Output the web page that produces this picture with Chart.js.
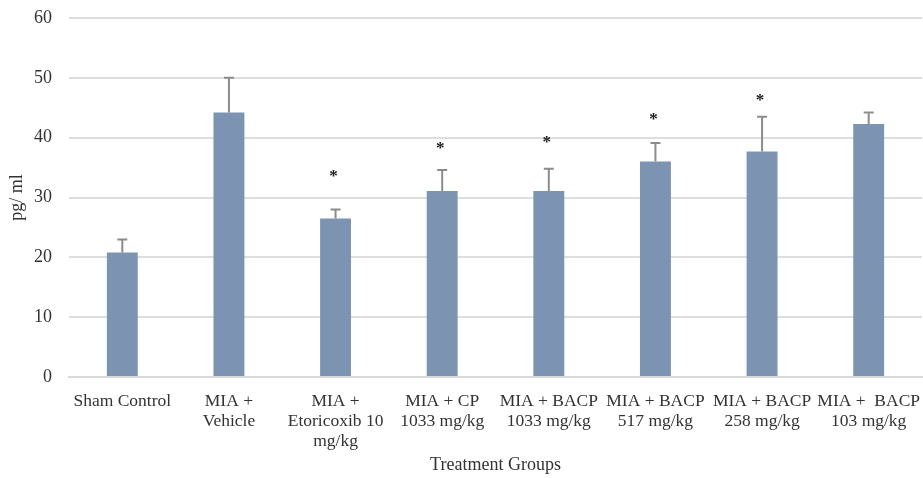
<!DOCTYPE html>
<html>
<head>
<meta charset="utf-8">
<script src="https://cdn.jsdelivr.net/npm/chart.js@4"></script>
<style>
  html, body { margin: 0; padding: 0; background: #ffffff; }
  #wrap { width: 923px; height: 478px; position: relative; }
</style>
</head>
<body>
<div id="wrap"><canvas id="chart" width="923" height="478"></canvas></div>
<script>
// Treatment groups (multi-line axis labels)
const groups = [
  ["Sham Control"],
  ["MIA +", "Vehicle"],
  ["MIA +", "Etoricoxib 10", "mg/kg"],
  ["MIA + CP", "1033 mg/kg"],
  ["MIA + BACP", "1033 mg/kg"],
  ["MIA + BACP", "517 mg/kg"],
  ["MIA + BACP", "258 mg/kg"],
  ["MIA +  BACP", "103 mg/kg"]
];

// Mean concentration (pg/ml)
const means = [20.8, 44.2, 26.5, 31.1, 31.1, 36.0, 37.7, 42.3];

// Upper end of the error bar for each group (pg/ml)
const errorTops = [23.0, 50.0, 28.0, 34.6, 34.8, 39.1, 43.5, 44.2];

// Significance markers and the level (pg/ml) at which each is placed
const sigMarks = ["", "", "*", "*", "*", "*", "*", ""];
const sigLevels = [null, null, 33.5, 38.1, 39.2, 43.1, 46.2, null];

// Value axis ticks
const yTicks = [0, 10, 20, 30, 40, 50, 60];

const SERIF = '"Liberation Serif", "Times New Roman", serif';

// Draws the error bars (upper whisker with cap) and significance asterisks
const errorBarPlugin = {
  id: 'errorBars',
  afterDatasetsDraw(chart) {
    const ctx = chart.ctx;
    const meta = chart.getDatasetMeta(0);
    const y = chart.scales.y;
    ctx.save();
    meta.data.forEach((bar, i) => {
      const xc = bar.x;
      const yTop = y.getPixelForValue(errorTops[i]);
      const yMean = y.getPixelForValue(means[i]);
      ctx.strokeStyle = '#8c8c8c';
      ctx.lineWidth = 2;
      ctx.beginPath();
      ctx.moveTo(xc, yMean);
      ctx.lineTo(xc, yTop);
      ctx.moveTo(xc - 5, yTop);
      ctx.lineTo(xc + 5, yTop);
      ctx.stroke();
      if (sigMarks[i]) {
        const ys = y.getPixelForValue(sigLevels[i]);
        ctx.fillStyle = '#1a1a1a';
        ctx.font = 'bold 17px ' + SERIF;
        ctx.textAlign = 'center';
        ctx.textBaseline = 'middle';
        ctx.fillText(sigMarks[i], xc - 2, ys);
      }
    });
    ctx.restore();
  }
};

new Chart(document.getElementById('chart'), {
  type: 'bar',
  data: {
    labels: groups,
    datasets: [{
      data: means,
      backgroundColor: '#7d93b2',
      borderWidth: 0,
      categoryPercentage: 1.0,
      barPercentage: 0.29
    }]
  },
  options: {
    responsive: false,
    animation: false,
    devicePixelRatio: 1,
    layout: { padding: { top: 18, right: 1, bottom: 2, left: 0 } },
    plugins: {
      legend: { display: false },
      tooltip: { enabled: false }
    },
    scales: {
      x: {
        grid: { display: false },
        border: { display: true, color: '#d9d9d9', width: 2 },
        ticks: {
          color: '#333333',
          font: { family: SERIF, size: 17.5, lineHeight: 1.13 },
          padding: 7,
          maxRotation: 0,
          autoSkip: false
        },
        title: {
          display: true,
          text: 'Treatment Groups',
          color: '#333333',
          font: { family: SERIF, size: 18 },
          padding: { top: 0, bottom: 0 }
        },
        afterFit(scale) {
          scale.height = 99;
          scale.paddingLeft = 0;
          scale.paddingRight = 0;
        }
      },
      y: {
        min: 0,
        max: 60,
        afterBuildTicks(scale) { scale.ticks = yTicks.map(v => ({ value: v })); },
        grid: { color: '#dedede', lineWidth: 2, drawTicks: false },
        border: { display: false },
        ticks: {
          color: '#333333',
          font: { family: SERIF, size: 18 },
          padding: 17
        },
        title: {
          display: true,
          text: 'pg/ ml',
          color: '#333333',
          font: { family: SERIF, size: 18 },
          padding: { top: 6, bottom: 0 }
        },
        afterFit(scale) {
          scale.width = 69;
          scale.paddingTop = 0;
          scale.paddingBottom = 0;
        }
      }
    }
  },
  plugins: [errorBarPlugin]
});
</script>
</body>
</html>
